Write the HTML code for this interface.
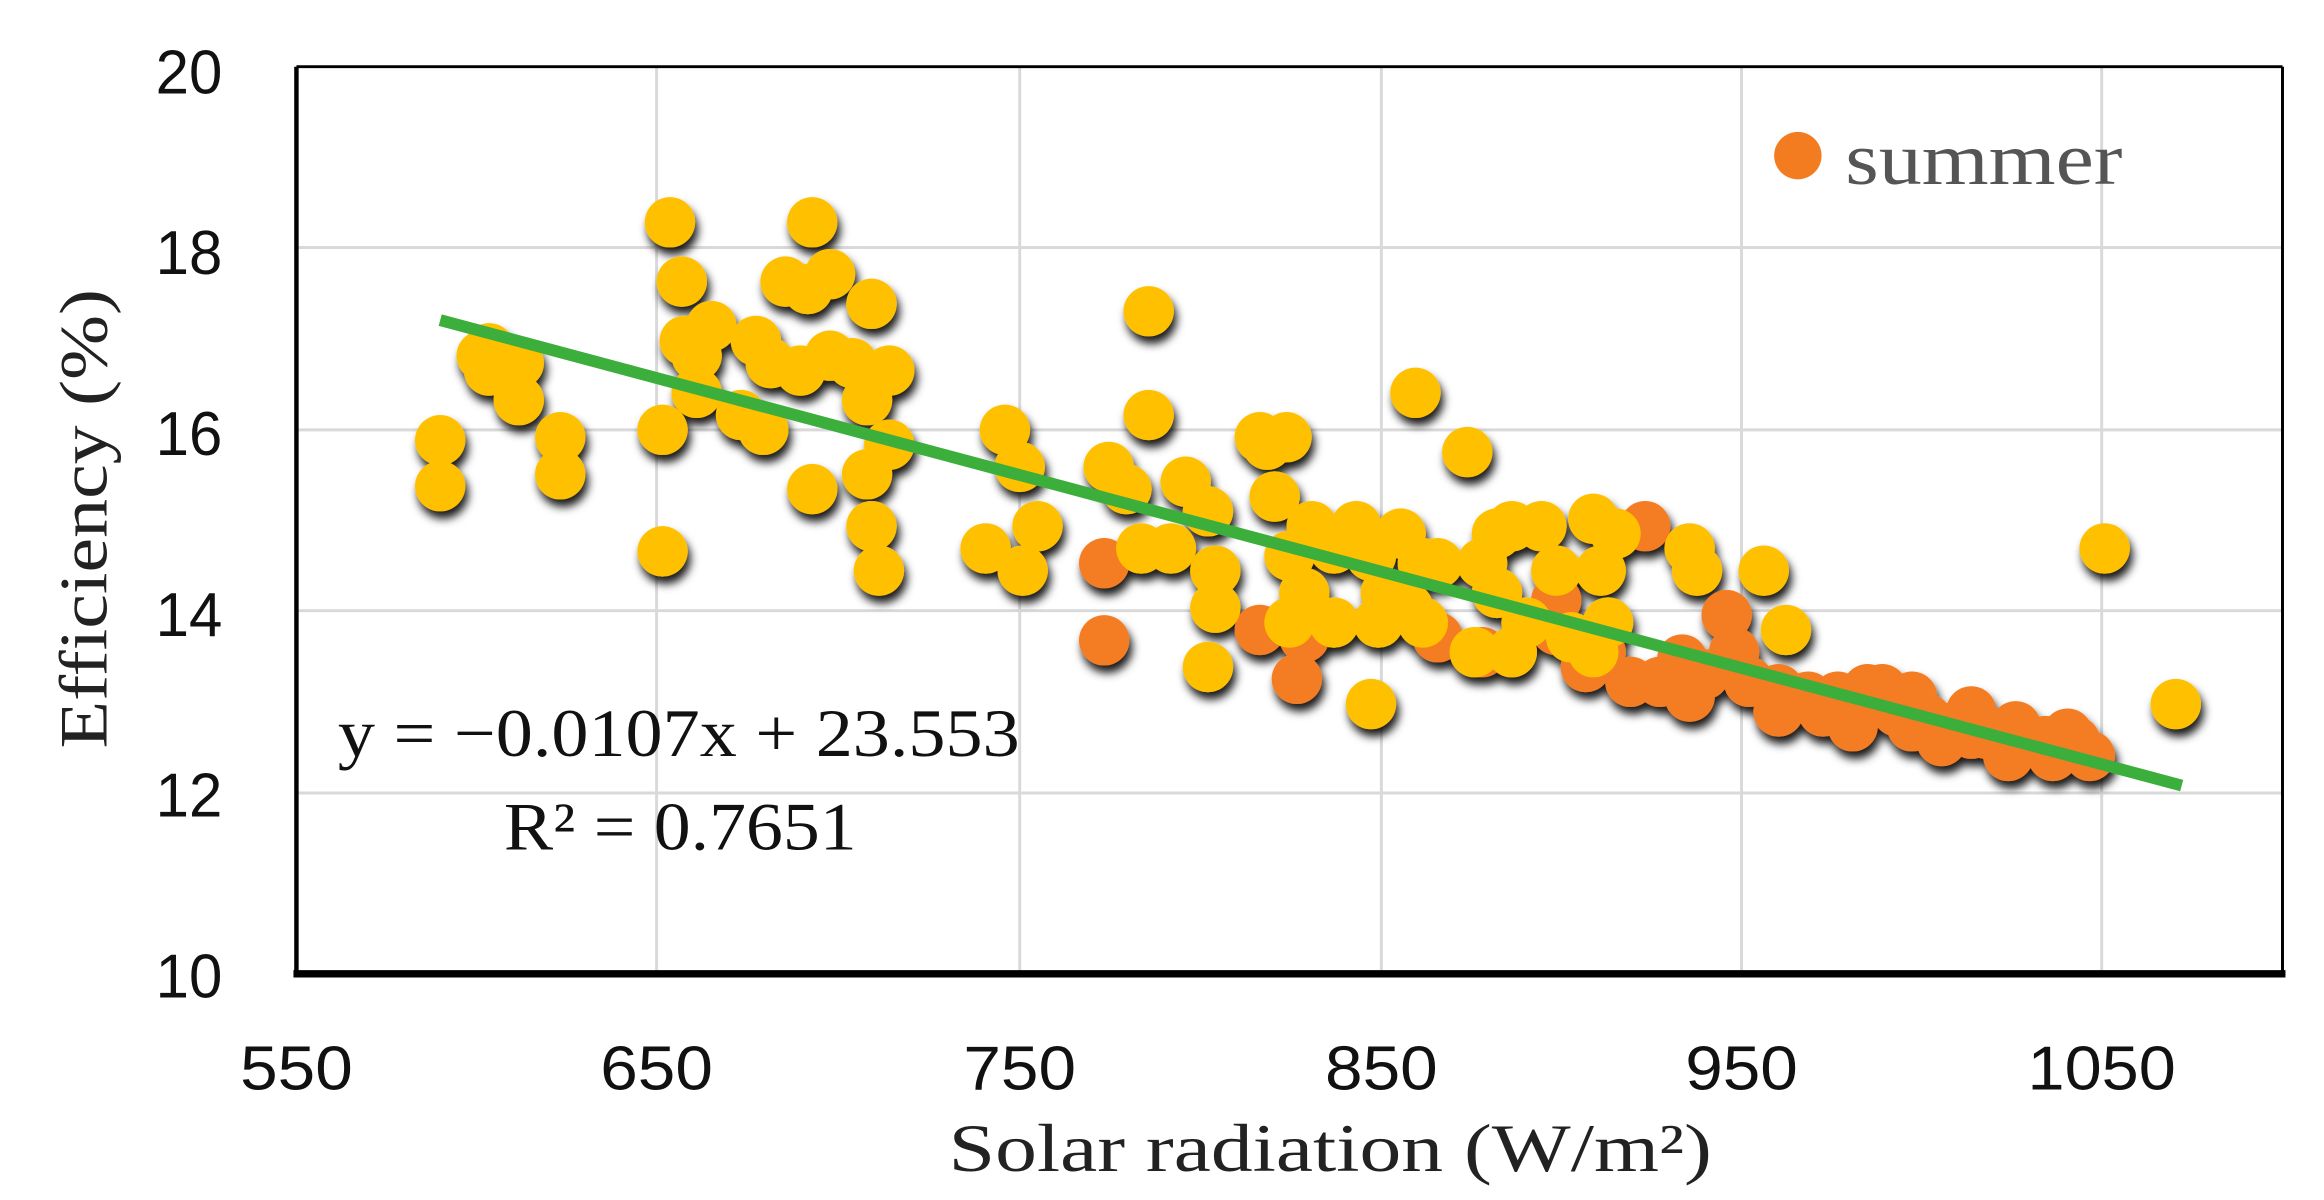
<!DOCTYPE html>
<html><head><meta charset="utf-8"><style>
html,body{margin:0;padding:0;background:#fff;width:2324px;height:1200px;overflow:hidden}
svg{display:block}
</style></head><body>
<svg id="s" width="2324" height="1200" viewBox="0 0 1568 809.6" preserveAspectRatio="none" xmlns="http://www.w3.org/2000/svg">
<defs>
<filter id="sh" x="-50%" y="-50%" width="200%" height="200%">
<feDropShadow dx="2" dy="5" stdDeviation="3" flood-color="#000" flood-opacity="0.9"/>
</filter>
</defs>
<rect width="1568" height="810" fill="#fff"/>
<g stroke="#d9d9d9" stroke-width="2">
<line x1="443" y1="45" x2="443" y2="657"/><line x1="688" y1="45" x2="688" y2="657"/>
<line x1="932" y1="45" x2="932" y2="657"/><line x1="1175" y1="45" x2="1175" y2="657"/>
<line x1="1418" y1="45" x2="1418" y2="657"/>
<line x1="200" y1="167" x2="1540" y2="167"/><line x1="200" y1="290" x2="1540" y2="290"/>
<line x1="200" y1="412" x2="1540" y2="412"/><line x1="200" y1="535" x2="1540" y2="535"/>
</g>
<g stroke="#000" fill="none">
<line x1="200" y1="45" x2="1540" y2="45" stroke-width="2"/>
<line x1="1540" y1="45" x2="1540" y2="657" stroke-width="2"/>
<line x1="200" y1="45" x2="200" y2="657" stroke-width="3"/>
<line x1="198" y1="657" x2="1542" y2="657" stroke-width="5"/>
</g>
<g id="pts"></g>
<line x1="297" y1="216" x2="1472" y2="530" stroke="#3cae3c" stroke-width="8"/>
<g font-family="'Liberation Sans',sans-serif" font-size="42" fill="#111" lengthAdjust="spacingAndGlyphs">
<text x="105" y="63" textLength="45" lengthAdjust="spacingAndGlyphs">20</text>
<text x="105" y="185" textLength="45" lengthAdjust="spacingAndGlyphs">18</text>
<text x="105" y="307" textLength="45" lengthAdjust="spacingAndGlyphs">16</text>
<text x="105" y="429" textLength="45" lengthAdjust="spacingAndGlyphs">14</text>
<text x="105" y="551" textLength="45" lengthAdjust="spacingAndGlyphs">12</text>
<text x="105" y="673" textLength="45" lengthAdjust="spacingAndGlyphs">10</text>
<text x="162" y="735" textLength="76" lengthAdjust="spacingAndGlyphs">550</text>
<text x="405" y="735" textLength="76" lengthAdjust="spacingAndGlyphs">650</text>
<text x="650" y="735" textLength="76" lengthAdjust="spacingAndGlyphs">750</text>
<text x="894" y="735" textLength="76" lengthAdjust="spacingAndGlyphs">850</text>
<text x="1137" y="735" textLength="76" lengthAdjust="spacingAndGlyphs">950</text>
<text x="1368" y="735" textLength="100" lengthAdjust="spacingAndGlyphs">1050</text>
</g>
<text x="640" y="790" textLength="515" lengthAdjust="spacingAndGlyphs" font-family="'Liberation Serif',serif" font-size="46" fill="#222">Solar radiation  (W/m²)</text>
<text transform="translate(72,505) rotate(-90)" textLength="310" lengthAdjust="spacingAndGlyphs" font-family="'Liberation Serif',serif" font-size="46" fill="#222">Efficiency  (%)</text>
<circle cx="1213" cy="105" r="16" fill="#f47c20"/>
<text x="1245" y="124" textLength="187" lengthAdjust="spacingAndGlyphs" font-family="'Liberation Serif',serif" font-size="50" fill="#555">summer</text>
<text x="228" y="510" textLength="460" lengthAdjust="spacingAndGlyphs" font-family="'Liberation Serif',serif" font-size="46" fill="#111">y = −0.0107x + 23.553</text>
<text x="340" y="573" textLength="238" lengthAdjust="spacingAndGlyphs" font-family="'Liberation Serif',serif" font-size="46" fill="#111">R² = 0.7651</text>
</svg>
<script>
var Y=[[297,297],[297,328],[325,240],[330,250],[350,270],[378,295],[378,320],[350,245],[452,150],[460,190],[462,230],[447,290],[447,372],[480,220],[470,265],[510,230],[500,280],[515,290],[530,190],[545,195],[548,330],[548,150],[560,185],[540,250],[560,240],[575,245],[588,205],[585,270],[585,320],[588,355],[593,385],[600,250],[600,300],[665,370],[678,290],[688,315],[700,355],[690,385],[748,315],[775,210],[775,280],[770,370],[790,370],[800,325],[815,345],[820,385],[815,450],[850,295],[855,300],[868,295],[860,335],[870,375],[885,355],[900,370],[915,355],[925,375],[930,420],[925,475],[935,400],[945,360],[955,265],[960,380],[970,380],[960,420],[990,305],[995,440],[1010,400],[1020,355],[1030,420],[1040,355],[1050,385],[1060,430],[1075,350],[1080,385],[1075,440],[1090,360],[1085,420],[1140,370],[1145,385],[1190,385],[1205,425],[1420,370],[1468,475],[880,400],[900,420],[950,410],[1000,380],[1020,440],[870,420],[760,330],[820,410],[1010,360],[470,240],[520,245],[330,235]];
var O=[[745,380],[745,432],[850,425],[870,420],[880,430],[875,458],[890,420],[970,430],[1000,440],[1020,440],[1050,405],[1070,450],[1100,460],[1110,355],[1120,460],[1140,470],[1165,415],[1170,440],[1180,460],[1200,480],[1220,470],[1240,470],[1260,475],[1270,465],[1280,480],[1290,490],[1300,485],[1320,490],[1330,495],[1340,495],[1355,510],[1360,490],[1380,500],[1385,510],[1400,500],[1410,510],[1050,425],[1080,440],[1150,455],[1250,490],[1290,470],[1330,480],[1370,500],[1230,480],[1310,500],[1395,495],[1200,465],[1260,465],[1135,445]];
var g=document.getElementById('pts'),h='<g filter="url(#sh)">';
O.forEach(function(p){h+='<circle cx="'+p[0]+'" cy="'+p[1]+'" r="17" fill="#f47c20"/>';});
Y.forEach(function(p){h+='<circle cx="'+p[0]+'" cy="'+p[1]+'" r="17" fill="#ffc000"/>';});
g.innerHTML=h+'</g>';
</script>
</body></html>
